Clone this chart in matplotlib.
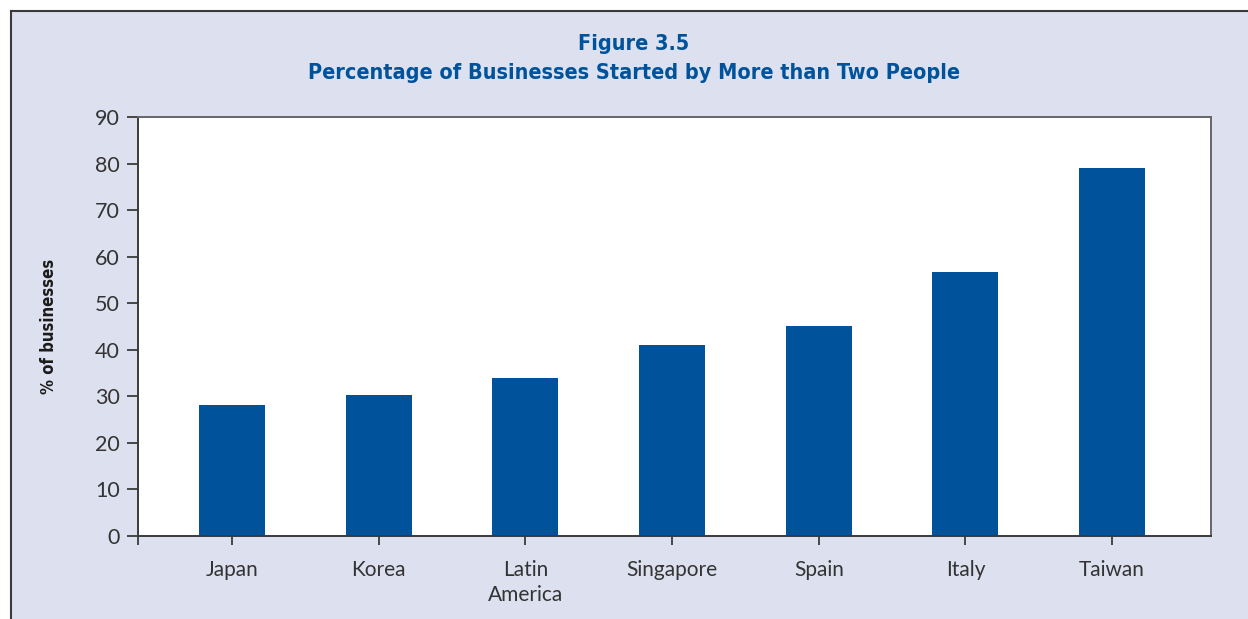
import numpy as np
import matplotlib.pyplot as plt
from matplotlib.lines import Line2D

plt.rcParams["axes.unicode_minus"] = False

countries = ["Japan", "Korea", "Latin\nAmerica", "Singapore", "Spain", "Italy", "Taiwan"]
shares = [28, 30.3, 34, 41, 45, 56.7, 79]
yticks = [0, 10, 20, 30, 40, 50, 60, 70, 80, 90]

BG = "#dde1ef"
BLUE = "#00539b"
TXT = "#333333"
BODY = ["Lato", "DejaVu Sans"]


def business_chart():
    fig = plt.figure(figsize=(12.48, 6.19), dpi=100, facecolor="white")

    # shaded panel with its frame on the left and top
    fig.add_artist(plt.Rectangle((11 / 1248, 0), 1, 1 - 11 / 619,
                                 transform=fig.transFigure,
                                 facecolor=BG, edgecolor="none", zorder=-5))
    fig.add_artist(Line2D([11 / 1248, 11 / 1248], [0, 1 - 11 / 619],
                          color="#3a3a3a", lw=1.5, zorder=-4))
    fig.add_artist(Line2D([11 / 1248, 1], [1 - 11 / 619, 1 - 11 / 619],
                          color="#3a3a3a", lw=1.5, zorder=-4))

    ax = fig.add_axes([138 / 1248, 83.5 / 619, 1073 / 1248, 418.2 / 619])
    ax.set_zorder(2)
    ax.set_facecolor("white")

    x = np.arange(len(countries))
    ax.bar(x, shares, width=0.45, color=BLUE, zorder=2)

    ax.set_xlim(-0.641, 6.674)
    ax.set_ylim(0, 90)
    ax.set_yticks(yticks)
    ax.set_yticklabels([str(v) for v in yticks], family=BODY, fontweight="normal",
                       fontsize=15.5, color=TXT)
    ax.set_xticks(x)
    ax.set_xticklabels(countries, family=BODY, fontweight="normal", fontsize=15,
                       color=TXT, linespacing=1.3, va="top")
    ax.set_xticks([-0.641], minor=True)

    ax.tick_params(axis="y", length=8, width=1.3, color="#3a3a3a", pad=5)
    ax.tick_params(axis="x", which="major", length=6.5, width=1.3,
                   color="#3a3a3a", pad=11)
    ax.tick_params(axis="x", which="minor", length=6.5, width=1.3, color="#3a3a3a")

    for side in ["left", "bottom"]:
        ax.spines[side].set_color("#3a3a3a")
        ax.spines[side].set_linewidth(1.4)
    for side in ["top", "right"]:
        ax.spines[side].set_color("#666666")
        ax.spines[side].set_linewidth(1.4)

    ax.set_ylabel("% of businesses", family="DejaVu Sans", fontstretch="condensed",
                  fontweight="bold", fontsize=12, color="#1a1a1a", labelpad=0)
    ax.yaxis.set_label_coords(-80 / 1073, 0.5)

    fig.text(634 / 1248, 1 - 44 / 619, "Figure 3.5", family="DejaVu Sans",
             fontstretch="condensed", fontweight="bold", fontsize=15.5, color=BLUE,
             ha="center", va="center")
    fig.text(634 / 1248, 1 - 73 / 619,
             "Percentage of Businesses Started by More than Two People",
             family="DejaVu Sans", fontstretch="condensed", fontweight="bold",
             fontsize=15.5, color=BLUE, ha="center", va="center")

    fig.savefig("out.png", dpi=100, facecolor="white")


if __name__ == "__main__":
    business_chart()
